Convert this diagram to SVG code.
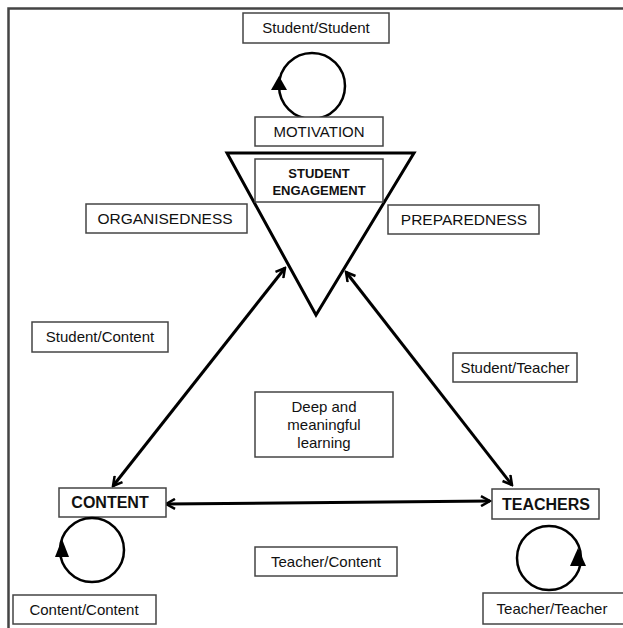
<svg xmlns="http://www.w3.org/2000/svg" width="623" height="628" viewBox="0 0 623 628">
<style>
.box{fill:#fff;stroke:#444;stroke-width:1.5}
.t{font-family:"Liberation Sans",Arial,sans-serif;font-size:15px;fill:#111;text-anchor:middle}
.b{font-weight:bold}
.loop{fill:none;stroke:#000;stroke-width:2.5}
.conn{stroke:#000;stroke-width:3;fill:none;marker-start:url(#ah);marker-end:url(#ah)}
</style>
<defs>
<marker id="ah" viewBox="0 0 12 12" refX="10" refY="6" markerWidth="12" markerHeight="12" markerUnits="userSpaceOnUse" orient="auto-start-reverse">
<path d="M1,1 L10,6 L1,11" fill="none" stroke="#000" stroke-width="2.5"/>
</marker>
</defs>
<rect width="623" height="628" fill="#fff"/>
<path d="M8.5,628 V8.5 H623" fill="none" stroke="#444" stroke-width="2.5"/>

<g id="connectors">
<line class="conn" x1="113" y1="486" x2="285" y2="268"/>
<line class="conn" x1="346" y1="272" x2="512" y2="485"/>
<line class="conn" x1="166" y1="504" x2="490" y2="501"/>
</g>

<g id="student-student">
<rect class="box" x="243" y="13" width="146" height="30"/>
<text class="t" x="316" y="33">Student/Student</text>
</g>
<g id="loop-top">
<circle class="loop" cx="312" cy="86" r="33"/>
<path d="M279,76 L287,90 L271,90 Z" fill="#000"/>
</g>
<g id="motivation">
<rect class="box" x="255" y="117" width="128" height="29"/>
<text class="t" x="319" y="137">MOTIVATION</text>
</g>
<g id="triangle">
<path d="M227,153 L414,153 L316,315 Z" fill="none" stroke="#000" stroke-width="3" stroke-linejoin="miter"/>
</g>
<g id="student-engagement">
<rect class="box" x="255" y="159" width="128" height="43"/>
<text class="t b" x="319" y="178" style="font-size:13px">STUDENT</text>
<text class="t b" x="319" y="195" style="font-size:13px">ENGAGEMENT</text>
</g>
<g id="organisedness">
<rect class="box" x="86" y="204" width="161" height="29"/>
<text class="t" x="165" y="224" style="font-size:15.5px">ORGANISEDNESS</text>
</g>
<g id="preparedness">
<rect class="box" x="388" y="205" width="151" height="29"/>
<text class="t" x="464" y="225" style="font-size:15.5px">PREPAREDNESS</text>
</g>
<g id="student-content">
<rect class="box" x="32" y="322" width="136" height="30"/>
<text class="t" x="100" y="342">Student/Content</text>
</g>
<g id="student-teacher">
<rect class="box" x="453" y="353" width="124" height="29"/>
<text class="t" x="515" y="373">Student/Teacher</text>
</g>
<g id="deep-learning">
<rect class="box" x="255" y="392" width="138" height="65"/>
<text class="t" x="324" y="412">Deep and</text>
<text class="t" x="324" y="430">meaningful</text>
<text class="t" x="324" y="448">learning</text>
</g>
<g id="content">
<rect class="box" x="59" y="488" width="107" height="29"/>
<text class="t b" x="110" y="508" style="font-size:16px">CONTENT</text>
</g>
<g id="teachers">
<rect class="box" x="492" y="489" width="107" height="30"/>
<text class="t b" x="546" y="510" style="font-size:16px">TEACHERS</text>
</g>
<g id="teacher-content">
<rect class="box" x="255" y="547" width="142" height="29"/>
<text class="t" x="326" y="567">Teacher/Content</text>
</g>
<g id="loop-content">
<circle class="loop" cx="92" cy="550" r="32"/>
<path d="M62,539 L69,557 L55,557 Z" fill="#000"/>
</g>
<g id="loop-teacher">
<circle class="loop" cx="549" cy="558" r="32"/>
<path d="M578,548 L586,566 L570,566 Z" fill="#000"/>
</g>
<g id="content-content">
<rect class="box" x="13" y="595" width="143" height="29"/>
<text class="t" x="84" y="615">Content/Content</text>
</g>
<g id="teacher-teacher">
<rect class="box" x="483" y="593" width="142" height="31"/>
<text class="t" x="552" y="614">Teacher/Teacher</text>
</g>
</svg>
